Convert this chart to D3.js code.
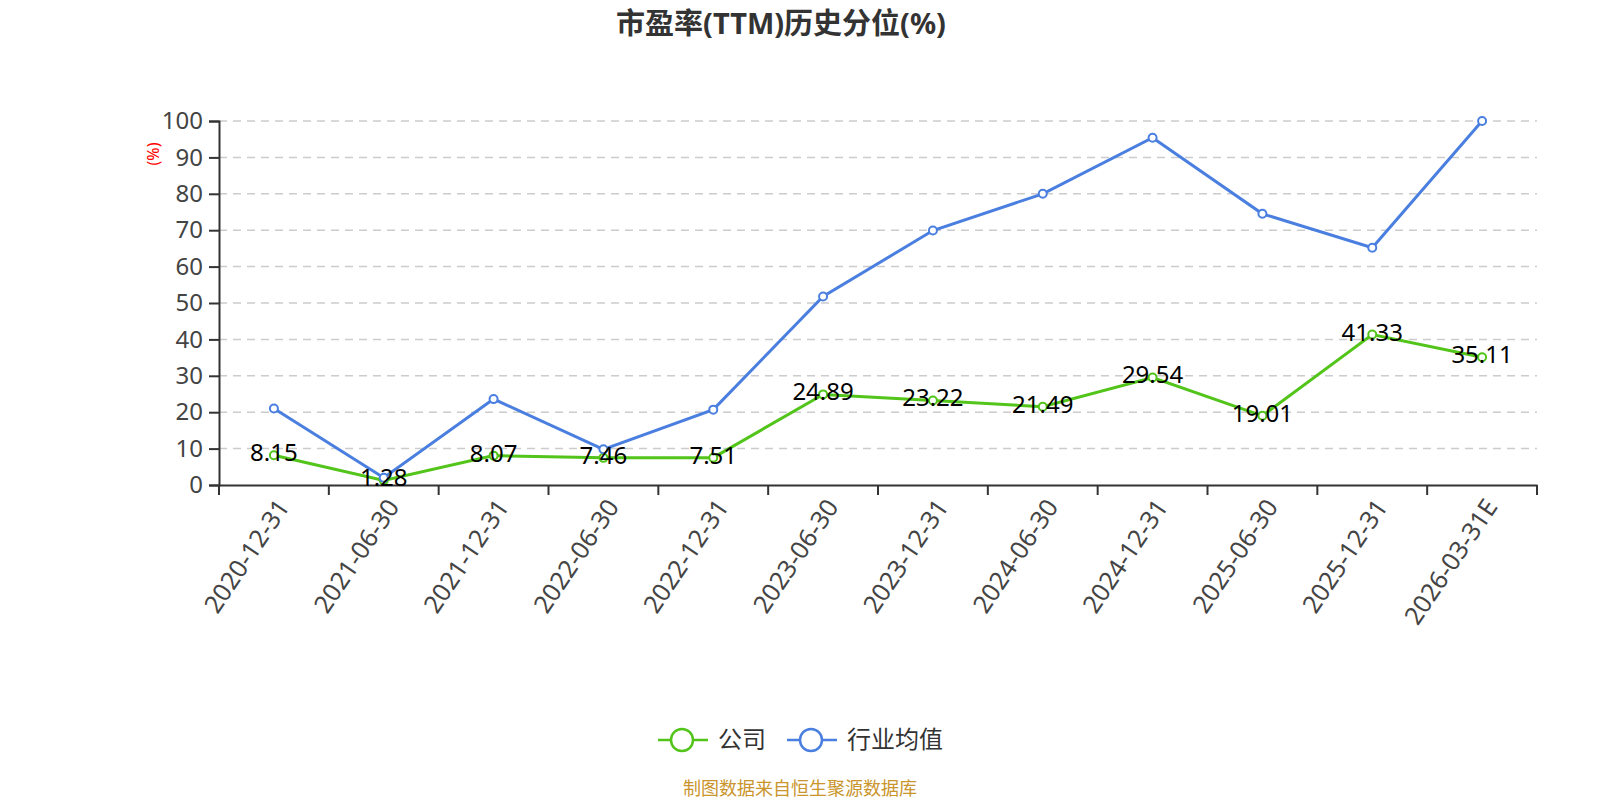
<!DOCTYPE html>
<html>
<head>
<meta charset="utf-8">
<script src="https://cdn.jsdelivr.net/npm/d3@7"></script>
<style>
  body { margin: 0; background: #fff; }
  svg { font-family: "Noto Sans", "Noto Sans CJK SC", sans-serif; }
</style>
</head>
<body>
<div id="chart"></div>
<script>
// data
var dates = ['2020-12-31', '2021-06-30', '2021-12-31', '2022-06-30', '2022-12-31', '2023-06-30',
  '2023-12-31', '2024-06-30', '2024-12-31', '2025-06-30', '2025-12-31', '2026-03-31E'];
var company = [8.15, 1.28, 8.07, 7.46, 7.51, 24.89, 23.22, 21.49, 29.54, 19.01, 41.33, 35.11];
var industry = [21.0, 2.0, 23.6, 9.8, 20.7, 51.8, 69.9, 80.0, 95.4, 74.5, 65.2, 100];
var yTicks = [0, 10, 20, 30, 40, 50, 60, 70, 80, 90, 100];

var width = 1600,
  height = 800;
var margin = {left: 219, right: 63, top: 121, bottom: 315};

var green = '#52c41a', blue = '#4a7fe0';

var svg = d3.select('#chart').append('svg')
    .attr('width', width)
    .attr('height', height);

var x = d3.scaleBand()
    .domain(dates)
    .range([margin.left, width - margin.right]);

var y = d3.scaleLinear()
    .domain([0, 100])
    .range([height - margin.bottom, margin.top]);

// title
svg.append('text')
    .attr('x', 781)
    .attr('y', 34)
    .attr('text-anchor', 'middle')
    .style('font-size', '29px')
    .style('font-weight', 'bold')
    .style('fill', '#333')
    .text('市盈率(TTM)历史分位(%)');

// grid
svg.append('g')
  .selectAll('line')
  .data(yTicks.filter(function(d) { return d > 0; }))
  .enter().append('line')
  .attr('x1', margin.left)
  .attr('x2', width - margin.right)
  .attr('y1', function(d) { return y(d); })
  .attr('y2', function(d) { return y(d); })
  .style('stroke', '#ccc')
  .style('stroke-width', 1.5)
  .style('stroke-dasharray', '8,6');

// y axis
var yAxis = d3.axisLeft(y).tickValues(yTicks).tickSize(10).tickPadding(6);
var gy = svg.append('g')
    .attr('transform', 'translate(' + margin.left + ',0)')
    .call(yAxis);
gy.select('.domain').style('stroke', '#333').style('stroke-width', 2);
gy.selectAll('.tick line').style('stroke', '#333').style('stroke-width', 2);
gy.selectAll('text').style('font-size', '24px').style('fill', '#444')
    .style('font-family', '"Noto Sans", sans-serif');

svg.append('text')
    .attr('transform', 'translate(159,154) rotate(-90)')
    .attr('text-anchor', 'middle')
    .style('font-size', '16px')
    .style('fill', 'red')
    .text('(%)');

// x axis
var xAxis = d3.axisBottom(x).tickSize(0).tickFormat('');
var gx = svg.append('g')
    .attr('transform', 'translate(0,' + y(0) + ')')
    .call(xAxis);
gx.select('.domain').style('stroke', '#333').style('stroke-width', 2);

var bounds = dates.map(function(d) { return x(d); }).concat([width - margin.right]);
gx.selectAll('.bound')
  .data(bounds)
  .enter().append('line')
  .attr('x1', function(d) { return d; })
  .attr('x2', function(d) { return d; })
  .attr('y1', 0)
  .attr('y2', 10)
  .style('stroke', '#333')
  .style('stroke-width', 2);

svg.append('g')
  .selectAll('text')
  .data(dates)
  .enter().append('text')
  .attr('transform', function(d) {
    return 'translate(' + (x(d) + x.bandwidth() / 2 + 2) + ',' + (y(0) + 12) + ') rotate(-56)';
  })
  .attr('text-anchor', 'end')
  .attr('dy', '0.7em')
  .style('font-size', '25px')
  .style('fill', '#444')
  .text(function(d) { return d; });

// lines
var cx = function(d, i) { return x(dates[i]) + x.bandwidth() / 2; };
var line = d3.line()
    .x(cx)
    .y(function(d) { return y(d); });

function drawSeries(values, color) {
  svg.append('path')
      .datum(values)
      .attr('d', line)
      .style('fill', 'none')
      .style('stroke', color)
      .style('stroke-width', 3);
  svg.append('g')
    .selectAll('circle')
    .data(values)
    .enter().append('circle')
    .attr('cx', cx)
    .attr('cy', function(d) { return y(d); })
    .attr('r', 4)
    .style('fill', '#fff')
    .style('stroke', color)
    .style('stroke-width', 2);
}

drawSeries(company, green);
drawSeries(industry, blue);

// value labels on company series
svg.append('g')
  .selectAll('text')
  .data(company)
  .enter().append('text')
  .attr('x', cx)
  .attr('y', function(d) { return y(d); })
  .attr('dy', '0.25em')
  .attr('text-anchor', 'middle')
  .style('font-size', '24px')
  .style('fill', '#000')
  .text(function(d) { return d3.format('.2f')(d); });

// legend
var legend = [{name: '公司', color: green, x: 658}, {name: '行业均值', color: blue, x: 787}];
var lg = svg.append('g').selectAll('g')
    .data(legend)
    .enter().append('g')
    .attr('transform', function(d) { return 'translate(' + d.x + ',740)'; });
lg.append('line')
    .attr('x1', 0).attr('x2', 50)
    .style('stroke', function(d) { return d.color; })
    .style('stroke-width', 2.5);
lg.append('circle')
    .attr('cx', 24).attr('r', 11)
    .style('fill', '#fff')
    .style('stroke', function(d) { return d.color; })
    .style('stroke-width', 2.5);
lg.append('text')
    .attr('x', 60)
    .attr('dy', '0.35em')
    .style('font-size', '24px')
    .style('fill', '#333')
    .text(function(d) { return d.name; });

// source
svg.append('text')
    .attr('x', 800)
    .attr('y', 795)
    .attr('text-anchor', 'middle')
    .style('font-size', '18px')
    .style('fill', '#c9952c')
    .text('制图数据来自恒生聚源数据库');
</script>
</body>
</html>
